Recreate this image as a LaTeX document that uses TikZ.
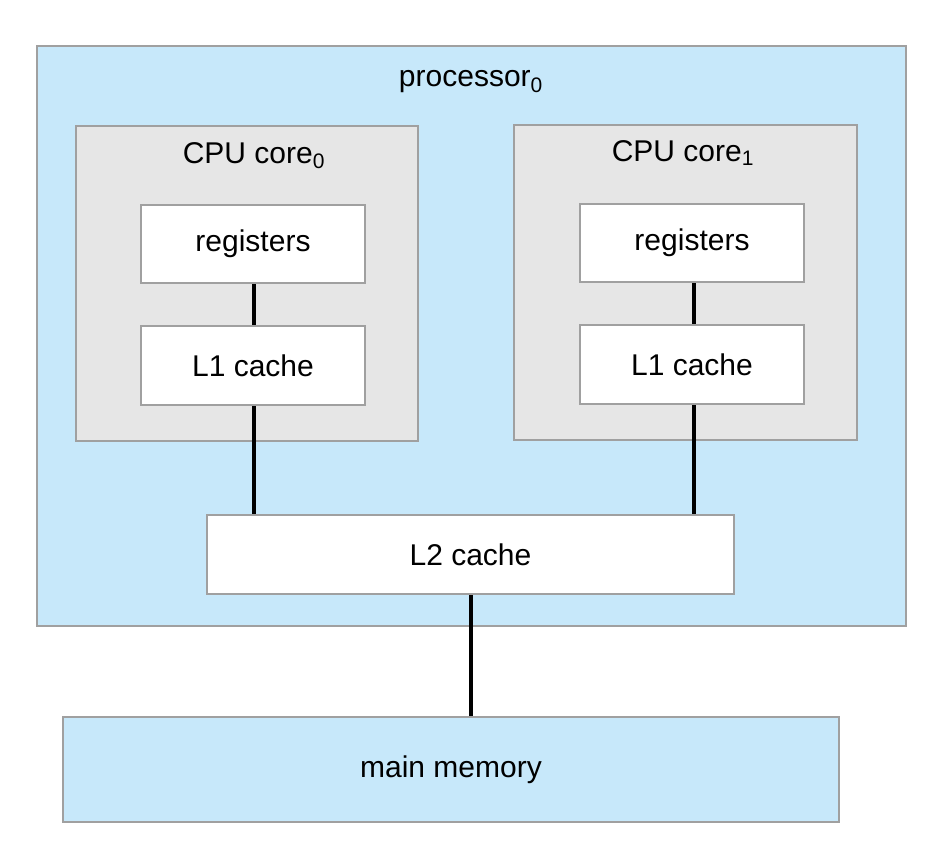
\documentclass[tikz,border=0pt]{standalone}
\usepackage{fontspec}
\setmainfont{Liberation Sans}
\definecolor{procblue}{HTML}{C7E8FA}
\definecolor{coregray}{HTML}{E6E6E6}
\definecolor{edgegray}{HTML}{A0A0A0}
\begin{document}
\begin{tikzpicture}[x=0.75pt,y=-0.75pt,
  box/.style={draw=edgegray,line width=1.5pt,inner sep=0pt,font=\fontsize{22.5}{27}\selectfont},
  bluebox/.style={box,fill=procblue},
  graybox/.style={box,fill=coregray},
  whitebox/.style={box,fill=white},
  label/.style={inner sep=0pt,font=\fontsize{22.5}{27}\selectfont},
  link/.style={line width=3pt,black}]
\useasboundingbox (0,0) rectangle (942,864);
\node[bluebox,minimum width=869*0.75pt,minimum height=580*0.75pt] (proc) at (471.5,336) {};
\node[label] (proclabel) at (471,82) {processor\textsubscript{0}};
\node[graybox,minimum width=342*0.75pt,minimum height=315*0.75pt] (core0) at (247,283.5) {};
\node[graybox,minimum width=343*0.75pt,minimum height=315*0.75pt] (core1) at (685.5,282.5) {};
\node[label] (c0label) at (254,156) {CPU core\textsubscript{0}};
\node[label] (c1label) at (683,153) {CPU core\textsubscript{1}};
\node[whitebox,minimum width=224*0.75pt,minimum height=78*0.75pt] (reg0) at (253,244) {registers};
\node[whitebox,minimum width=224*0.75pt,minimum height=79*0.75pt] (lone0) at (253,365.5) {L1 cache};
\node[whitebox,minimum width=224*0.75pt,minimum height=78*0.75pt] (reg1) at (692,243) {registers};
\node[whitebox,minimum width=224*0.75pt,minimum height=79*0.75pt] (lone1) at (692,364.5) {L1 cache};
\node[whitebox,minimum width=527*0.75pt,minimum height=79*0.75pt] (ltwo) at (470.5,554.5) {L2 cache};
\node[bluebox,minimum width=776*0.75pt,minimum height=105*0.75pt] (mem) at (451,769.5) {main memory};
\draw[link] ([xshift=0.75pt]reg0.south) -- ([xshift=0.75pt]lone0.north);
\draw[link] ([xshift=1.5pt]reg1.south) -- ([xshift=1.5pt]lone1.north);
\draw[link] ([xshift=0.75pt]lone0.south) -- ([xshift=0.75pt]lone0.south |- ltwo.north);
\draw[link] ([xshift=1.5pt]lone1.south) -- ([xshift=1.5pt]lone1.south |- ltwo.north);
\draw[link] ([xshift=0.5pt]ltwo.south) -- ([xshift=0.5pt]ltwo.south |- mem.north);
\end{tikzpicture}
\end{document}
